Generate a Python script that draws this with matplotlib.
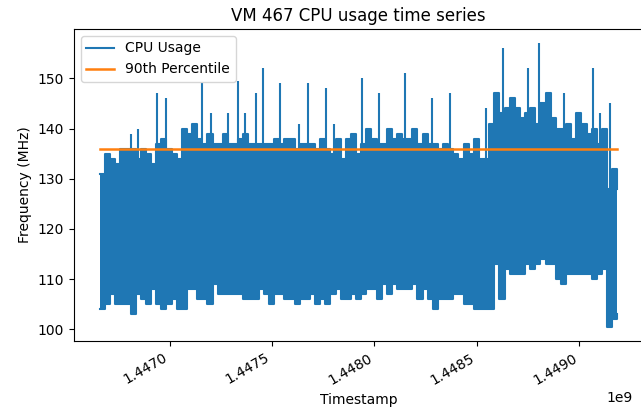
import numpy as np
import matplotlib
matplotlib.use("Agg")
import matplotlib.pyplot as plt

# VM 467 CPU usage: per sample the upper and lower
# envelope of the dense series (MHz), one sample every 25000 s
t_start = 1446660000
t_step = 25000

upper = [131, 135, 134, 133, 136, 136, 136, 134, 136, 135,
         133, 137, 138, 136, 135, 134, 140, 139, 141, 138,
         137, 139, 137, 137, 139, 137, 137, 138, 139, 137,
         137, 137, 137, 137, 138, 137, 138, 138, 136, 137,
         137, 137, 136, 138, 136, 135, 138, 134, 138, 139,
         135, 137, 140, 138, 137, 137, 140, 138, 139, 138,
         138, 140, 137, 139, 137, 137, 136, 137, 136, 135,
         134, 137, 135, 138, 134, 134, 141, 147, 143, 144,
         146, 144, 142, 143, 144, 141, 145, 147, 142, 140,
         140, 141, 138, 143, 141, 139, 140, 137, 140, 128,
         132, 128]

lower = [104, 105, 107, 105, 105, 105, 103, 107, 106, 105,
         108, 105, 104, 105, 106, 104, 104, 108, 108, 106,
         106, 105, 109, 107, 107, 107, 107, 107, 106, 106,
         106, 108, 107, 105, 107, 107, 106, 106, 105, 106,
         106, 107, 105, 106, 105, 107, 108, 106, 106, 107,
         106, 107, 108, 108, 106, 109, 107, 109, 108, 108,
         108, 109, 106, 108, 106, 104, 106, 106, 106, 107,
         107, 105, 105, 104, 104, 104, 104, 113, 106, 112,
         111, 111, 111, 113, 112, 113, 114, 113, 113, 110,
         109, 111, 111, 111, 111, 111, 110, 111, 112, 100.5,
         102, 103]

# single-sample peaks
spike_time = [1446812000, 1446848000, 1446937000, 1446985000, 1447159000,
              1447200000, 1447285000, 1447333000, 1447366000, 1447422000,
              1447455000, 1447540000, 1447630000, 1447676000, 1447762000,
              1447803000, 1447938000, 1448024000, 1448150000, 1448283000,
              1448369000, 1448544000, 1448628000, 1448751000, 1448803000,
              1448925000, 1449065000, 1449100000, 1449150000]
spike_value = [139, 140, 147, 146, 149, 143, 143, 149.5, 143, 147,
               152, 149, 141, 149, 148, 141, 150, 147, 151, 146,
               147, 144, 156, 152, 157, 147, 152, 143, 145]

percentile_90 = 136

timestamps = t_start + t_step * np.arange(len(upper))
upper = np.array(upper, dtype=float)
lower = np.array(lower, dtype=float)

blue = '#1f77b4'
orange = '#ff7f0e'

fig = plt.figure(figsize=(6.41, 4.08), dpi=100)
ax = fig.add_axes([0.1154, 0.164, 0.888, 0.765])

ax.fill_between(timestamps, lower, upper, step='post', color=blue, lw=0)
ax.step(timestamps, upper, where='post', color=blue, lw=1.5, label='CPU Usage')
ax.step(timestamps, lower, where='post', color=blue, lw=1.5)

# base of each peak = upper envelope at that moment
idx = np.searchsorted(timestamps, spike_time, side='right') - 1
ax.vlines(spike_time, upper[idx], spike_value, color=blue, lw=1.5)

ax.plot([timestamps[0], timestamps[-1]], [percentile_90, percentile_90],
        color=orange, lw=1.8, label='90th Percentile')

ax.set_yticks([100, 110, 120, 130, 140, 150])
ax.set_xticks([1.4470e9, 1.4475e9, 1.4480e9, 1.4485e9, 1.4490e9])
ax.margins(x=0.05, y=0.05)
ax.tick_params(labelsize=10)
for lbl in ax.get_xticklabels():
    lbl.set_rotation(30)
    lbl.set_ha('right')
ax.xaxis.get_offset_text().set_x(0.982)

ax.set_title('VM 467 CPU usage time series', fontsize=12)
ax.set_xlabel('Timestamp', fontsize=10)
ax.set_ylabel('Frequency (MHz)', fontsize=10)
ax.legend(loc='upper left', fontsize=10)

fig.savefig('out.png', dpi=100)
